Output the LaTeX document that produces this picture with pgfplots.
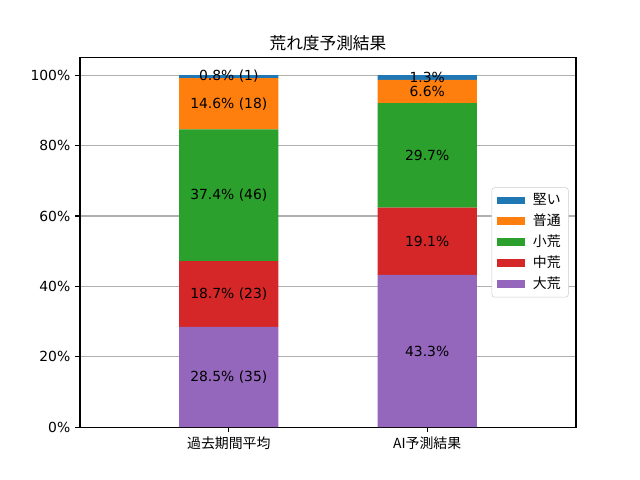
\documentclass[border=0pt]{standalone}
\usepackage{fontspec}
\setmainfont{DejaVu Sans}
\newfontfamily\jp{Noto Sans CJK JP}
\usepackage{pgfplots}
\pgfplotsset{compat=1.18}
\definecolor{tabblue}{HTML}{1F77B4}
\definecolor{taborange}{HTML}{FF7F0E}
\definecolor{tabgreen}{HTML}{2CA02C}
\definecolor{tabred}{HTML}{D62728}
\definecolor{tabpurple}{HTML}{9467BD}
\pgfplotsset{frame/.style={at={(57.6pt,38.02pt)}, anchor=south west,
  scale only axis, width=357.12pt, height=266.11pt,
  xmin=-0.75, xmax=1.75, ymin=0, ymax=105}}
\begin{document}
\begin{tikzpicture}
\path[use as bounding box] (0,0) rectangle (460.8pt,345.6pt);
\begin{axis}[
  frame,
  ybar stacked, bar width=0.5,
  xtick={0,1}, xticklabels={{\jp 過去期間平均},{\jp AI予測結果}},
  ytick={0,20,40,60,80,100},
  yticklabel={\pgfmathprintnumber{\tick}\%},
  /pgf/number format/assume math mode=true,
  tick align=outside, major tick length=3.5pt,
  tick style={black, line width=0.8pt},
  xtick pos=bottom, ytick pos=left,
  axis line style={line width=0.8pt},
  ymajorgrids, grid style={color=black!31, line width=0.8pt},
  tick label style={font=\fontsize{10pt}{12pt}\selectfont},
  title={\jp 荒れ度予測結果}, title style={font=\fontsize{12pt}{14pt}\selectfont, yshift=-5pt},
  reverse legend,
  legend style={at={(0.985,0.5)}, anchor=east, draw=black!20, rounded corners=2pt,
    fill=white, font=\fontsize{10pt}{12pt}\selectfont\jp,
    row sep=1.2pt, inner xsep=3.5pt, inner ysep=2.5pt,
    /tikz/every odd column/.style={column sep=4pt}},
  legend image code/.code={\fill[#1, sharp corners] (0pt,-2.8pt) rectangle (20pt,2.8pt);},
]
\addplot[fill=tabpurple, draw=none] coordinates {(0,28.5) (1,43.3)};
\addplot[fill=tabred, draw=none] coordinates {(0,18.7) (1,19.1)};
\addplot[fill=tabgreen, draw=none] coordinates {(0,37.4) (1,29.7)};
\addplot[fill=taborange, draw=none] coordinates {(0,14.6) (1,6.6)};
\addplot[fill=tabblue, draw=none] coordinates {(0,0.8) (1,1.3)};
\legend{大荒,中荒,小荒,普通,堅い}
\end{axis}
\begin{axis}[frame, hide axis]
\addplot[draw=none, mark=none, nodes near coords, point meta=explicit symbolic,
  every node near coord/.append style={anchor=center, font=\fontsize{10pt}{12pt}\selectfont, black}]
  coordinates {
  (0,14.25) [28.5\% (35)]
  (0,37.85) [18.7\% (23)]
  (0,65.9) [37.4\% (46)]
  (0,91.9) [14.6\% (18)]
  (0,99.6) [0.8\% (1)]
  (1,21.65) [43.3\%]
  (1,52.85) [19.1\%]
  (1,77.25) [29.7\%]
  (1,95.4) [6.6\%]
  (1,99.35) [1.3\%]
};
\end{axis}
\end{tikzpicture}
\end{document}
